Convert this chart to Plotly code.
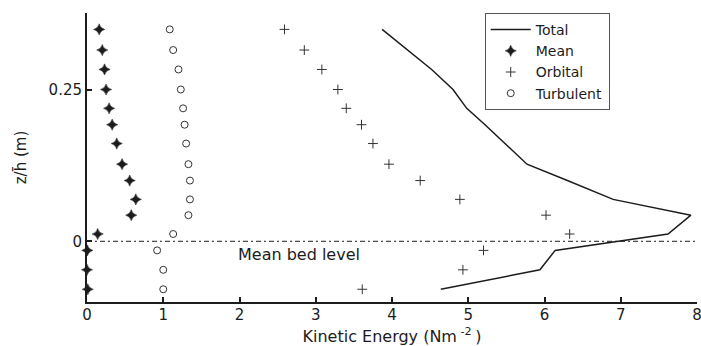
import plotly.graph_objects as go

# ---- data ----
z_levels = [0.349, 0.315, 0.283, 0.250, 0.219, 0.192, 0.161, 0.127,
            0.100, 0.069, 0.043, 0.012, -0.015, -0.047, -0.079]
ke_total = [3.87, 4.20, 4.52, 4.80, 4.98, 5.22, 5.48, 5.77,
            6.30, 6.90, 7.92, 7.62, 6.14, 5.94, 4.64]
ke_mean = [0.16, 0.20, 0.23, 0.25, 0.29, 0.33, 0.39, 0.46,
           0.56, 0.64, 0.58, 0.14, 0.005, 0.0, 0.01]
ke_orbital = [2.59, 2.85, 3.08, 3.29, 3.40, 3.60, 3.75, 3.96,
              4.37, 4.89, 6.02, 6.33, 5.20, 4.93, 3.61]
ke_turbulent = [1.085, 1.13, 1.20, 1.23, 1.26, 1.28, 1.30, 1.33,
                1.35, 1.35, 1.33, 1.13, 0.92, 1.00, 1.00]
x_ticks = [0, 1, 2, 3, 4, 5, 6, 7, 8]
y_ticks = [0, 0.25]
y_tick_text = ["0", "0.25"]
bed_level = 0.0

FONT = "DejaVu Sans"
INK = "#1c1c1c"
GREY = "#333333"

fig = go.Figure()
fig.add_trace(go.Scatter(x=ke_total, y=z_levels, mode="lines", name="Total",
                         line=dict(color=INK, width=1.5), cliponaxis=False))
fig.add_trace(go.Scatter(x=ke_mean, y=z_levels, mode="markers", name="Mean",
                         marker=dict(symbol="star-diamond", size=8, color=INK,
                                     line=dict(width=0.5, color=INK)),
                         cliponaxis=False))
fig.add_trace(go.Scatter(x=ke_orbital, y=z_levels, mode="markers", name="Orbital",
                         marker=dict(symbol="cross-thin-open", size=7, color=GREY,
                                     line=dict(width=1, color=GREY)),
                         cliponaxis=False))
fig.add_trace(go.Scatter(x=ke_turbulent, y=z_levels, mode="markers", name="Turbulent",
                         marker=dict(symbol="circle-open", size=7, color=GREY,
                                     line=dict(width=1, color=GREY)),
                         cliponaxis=False))

fig.add_shape(type="line", xref="x", yref="y", x0=x_ticks[0], x1=x_ticks[-1],
              y0=bed_level, y1=bed_level,
              line=dict(color=INK, width=1, dash="5px,3px,2px,3px"))

fig.add_annotation(x=1.96, y=-0.022, xref="x", yref="y", text="Mean bed level",
                   showarrow=False, xanchor="left", yanchor="middle",
                   font=dict(family=FONT, size=16, color=INK))

fig.update_layout(
    width=701, height=346,
    margin=dict(l=87, r=4, t=13, b=44),
    paper_bgcolor="white", plot_bgcolor="white",
    font=dict(family=FONT, size=15, color=INK),
    showlegend=True,
    legend=dict(x=0.652, y=1.0, xanchor="left", yanchor="top",
                bgcolor="white", bordercolor="#555", borderwidth=1,
                font=dict(family=FONT, size=14, color=INK),
                itemwidth=40, tracegroupgap=0),
)
fig.update_xaxes(range=[0, 8], tickvals=x_ticks, ticks="inside", ticklen=5,
                 tickwidth=1.5, tickcolor=INK, ticklabeloverflow="allow",
                 ticklabelstandoff=-2,
                 tickfont=dict(family=FONT, size=15, color=INK),
                 showline=True, linecolor=INK, linewidth=2, showgrid=False,
                 zeroline=False, mirror=False, automargin=False,
                 title=dict(text="Kinetic Energy (Nm<sup> -2 </sup>)", standoff=14,
                            font=dict(family=FONT, size=16, color=INK)))
fig.update_yaxes(range=[-0.1, 0.376], tickvals=y_ticks, ticktext=y_tick_text,
                 ticks="inside", ticklen=5, tickwidth=1.5, tickcolor=INK,
                 tickfont=dict(family=FONT, size=15, color=INK),
                 showline=True, linecolor=INK, linewidth=2, showgrid=False,
                 zeroline=False, mirror=False, automargin=False,
                 title=dict(text="z/h\u0304 (m)", standoff=18,
                            font=dict(family=FONT, size=15, color=INK)))

fig.write_html("out.html")
